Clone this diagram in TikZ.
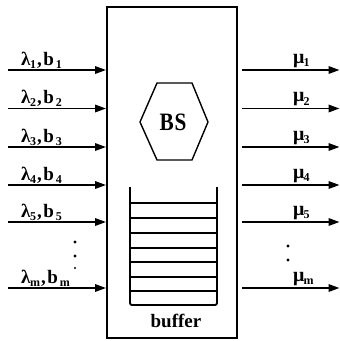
\documentclass[tikz,border=0pt]{standalone}
\usepackage{fontspec}
\setmainfont{Liberation Serif}
\usetikzlibrary{arrows.meta,calc}
\newcommand{\lsb}[1]{\raisebox{-0.4ex}{\fontsize{12}{12}\selectfont #1}}
\tikzset{
  arr/.style={line width=1.8pt,-{Triangle[length=11pt,width=7.5pt]}},
  inlab/.style={anchor=base west,inner sep=0pt,font=\bfseries\fontsize{19}{19}\selectfont},
  outlab/.style={anchor=base west,inner sep=0pt,font=\bfseries\fontsize{20}{20}\selectfont},
  thinln/.style={line width=1.4pt},
  dotm/.style={circle,fill=black,inner sep=0pt,minimum size=3.2pt}
}
\begin{document}
\begin{tikzpicture}[x=1pt,y=-1pt]
\useasboundingbox (0,0) rectangle (340,341);
\node[draw,line width=2pt,minimum width=130pt,minimum height=331pt,inner sep=0pt] (box) at (172,172.5) {};
% inputs
\foreach \i/\y in {1/70,2/108.5,3/147,4/185,5/222,m/288}{
  \coordinate (in\i) at (8,\y);
  \draw[arr] (in\i) -- (in\i -| box.west);
  \coordinate (os\i) at (242,\y);
  \coordinate (oe\i) at (339.5,\y);
  \draw[arr] (os\i) -- (oe\i);
}
\foreach \i in {1,2,3,4,5,m}{
  \node[inlab] (lab\i) at ($(in\i)+(13,-5)$) {λ\kern-0.5pt\lsb{\i}\kern1pt,\kern1.5pt b\kern2pt\lsb{\i}};
  \node[outlab] (mu\i) at ($(os\i)+(51,-7)$) {μ\kern-1pt\lsb{\i}};
}
% dots
\node[dotm] (dl1) at (75,242) {};
\node[dotm] (dl2) at (75,256) {};
\node[dotm,minimum size=2.2pt] (dl3) at (75,268) {};
\node[dotm] (dr1) at (288,246) {};
\node[dotm] (dr2) at (288,260) {};
% BS hexagon
\node[font=\bfseries\fontsize{25}{25}\selectfont,inner sep=0pt] (bs) at (173,122) {\scalebox{0.85}[1]{B\kern1pt S}};
\draw[thinln,line join=round] (140,122) -- (157,83) -- (192,83) -- (208,122) -- (192,160) -- (157,160) -- cycle;
% buffer stack
\draw[line width=1.8pt,rounded corners=2pt] (130,187) -- (130,305) -- (217,305) -- (217,187);
\foreach \y in {203,218,233,248,262,277,291}{
  \draw[thinln] (130,\y) -- (217,\y);
}
\node[font=\bfseries\fontsize{19}{19}\selectfont,inner sep=0pt] (buf) at (176,321) {buffer};
\end{tikzpicture}
\end{document}
